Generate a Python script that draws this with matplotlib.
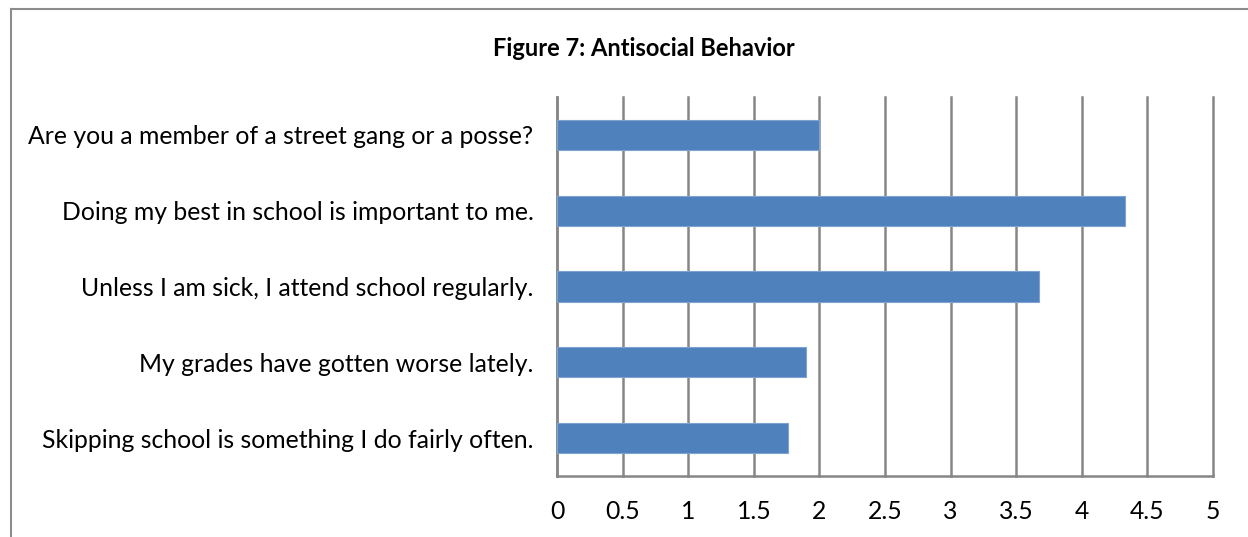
import matplotlib
matplotlib.use("Agg")
import matplotlib.pyplot as plt
from matplotlib.lines import Line2D
import numpy as np

categories = [
    "Are you a member of a street gang or a posse?",
    "Doing my best in school is important to me.",
    "Unless I am sick, I attend school regularly.",
    "My grades have gotten worse lately.",
    "Skipping school is something I do fairly often.",
]
values = [2.0, 4.33, 3.67, 1.90, 1.76]
xticks = [0, 0.5, 1, 1.5, 2, 2.5, 3, 3.5, 4, 4.5, 5]
xtick_labels = ["0", "0.5", "1", "1.5", "2", "2.5", "3", "3.5", "4", "4.5", "5"]

matplotlib.rcParams['font.family'] = ["Lato", "DejaVu Sans"]
grid_c = "#868686"

W, H = 1248, 537
fig = plt.figure(figsize=(W / 100, H / 100), dpi=100)
ax = fig.add_axes([557 / W, 1 - 476 / H, (1213 - 557) / W, (476 - 97) / H])

pos = np.arange(len(categories))
ax.barh(pos, values, height=0.4, color="#4F81BD", edgecolor="#7FA3D0", linewidth=0.8, zorder=3)

ax.set_xlim(0, 5)
ax.set_ylim(len(categories) - 0.5, -0.5)
ax.set_xticks(xticks, xtick_labels)
ax.set_yticks(pos, categories)
ax.tick_params(axis='both', length=0, labelsize=17.8, colors="black")
ax.tick_params(axis='x', pad=17)
ax.tick_params(axis='y', pad=17)
ax.grid(axis='x', color=grid_c, linewidth=1.8, zorder=0)
for gl in ax.get_xgridlines():
    gl.set_clip_on(False)
for s in ["top", "right"]:
    ax.spines[s].set_visible(False)
for s in ["left", "bottom"]:
    ax.spines[s].set_color(grid_c)
    ax.spines[s].set_linewidth(1.8)

fig.text(644 / W, 1 - 48 / H, "Figure 7: Antisocial Behavior", ha='center', va='center',
         fontsize=17, fontweight='bold')

# outer chart frame (only top and left edges are visible)
fig.add_artist(Line2D([11 / W, 11 / W], [0, 1 - 9 / H], transform=fig.transFigure, color="#8c8c8c", lw=1.5))
fig.add_artist(Line2D([11 / W, 1], [1 - 9 / H, 1 - 9 / H], transform=fig.transFigure, color="#8c8c8c", lw=1.5))

fig.savefig("out.png", dpi=100)
